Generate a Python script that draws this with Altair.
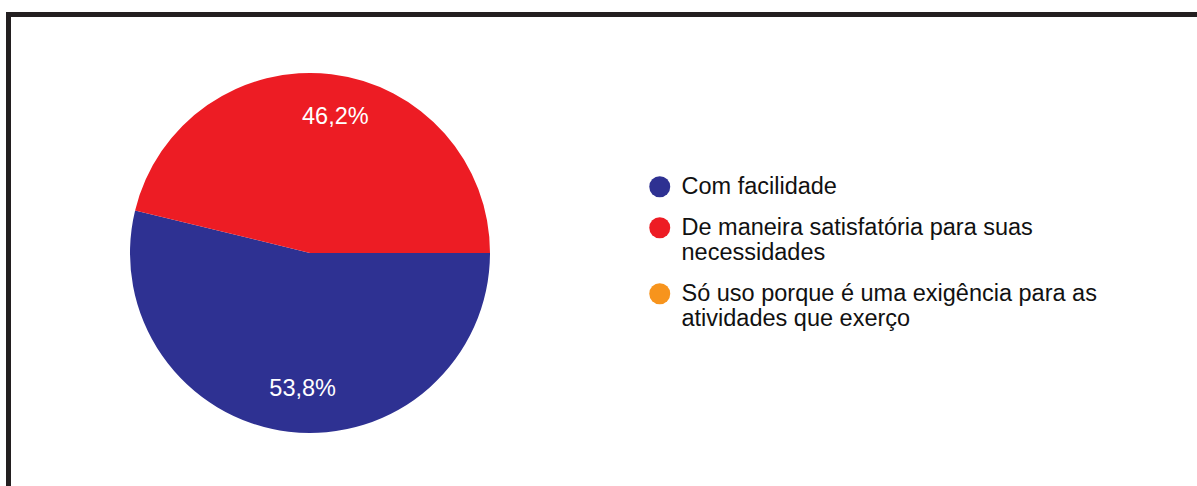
import math
import altair as alt
import pandas as pd

categories = [
    "Com facilidade",
    "De maneira satisfatória para suas\nnecessidades",
    "Só uso porque é uma exigência para as\natividades que exerço",
]
values = [53.8, 46.2, 0.0]
colors = ["#2E3192", "#ED1C24", "#F7941D"]

df = pd.DataFrame({
    "cat": categories,
    "value": values,
    "idx": list(range(len(categories))),
    "label": [("%.1f%%" % v).replace(".", ",") for v in values],
})

W, H = 1197, 486
CX, CY, R = 310, 253, 180
start = math.pi / 2

theta = alt.Theta("value:Q", stack=True,
                  scale=alt.Scale(range=[start, start + 2 * math.pi]))
color = alt.Color(
    "cat:N",
    scale=alt.Scale(domain=categories, range=colors),
    legend=alt.Legend(
        title=None, orient="none", legendX=648, legendY=175,
        symbolType="circle", symbolSize=441, symbolStrokeWidth=0,
        labelFontSize=23.5, labelFont="Liberation Sans", labelColor="#111111",
        labelLimit=700, labelOffset=10, rowPadding=16,
        labelExpr="split(datum.label, '\\n')",
    ),
)

base = alt.Chart(df).encode(
    theta=theta,
    order=alt.Order("idx:Q"),
    x=alt.value(CX),
    y=alt.value(CY),
)

pie = base.mark_arc(outerRadius=R, stroke=None).encode(color=color)
labels = base.mark_text(
    radius=137, dx=9, fontSize=23.5, font="Liberation Sans", color="white"
).encode(text=alt.Text("label:N"),
         opacity=alt.condition("datum.value > 0", alt.value(1), alt.value(0)))

frame_top = alt.Chart(df).mark_rule(color="#231F20", strokeWidth=5).encode(
    x=alt.value(6), x2=alt.value(W), y=alt.value(14.5)
)
frame_left = alt.Chart(df).mark_rule(color="#231F20", strokeWidth=5).encode(
    x=alt.value(8.5), y=alt.value(12), y2=alt.value(H)
)

chart = alt.layer(pie, labels, frame_top, frame_left).properties(
    width=W, height=H, autosize=alt.AutoSizeParams(type="none"), padding=0,
    background="white",
).configure_view(stroke=None)

chart.save("out.html", embed_options={"renderer": "svg", "actions": False})
